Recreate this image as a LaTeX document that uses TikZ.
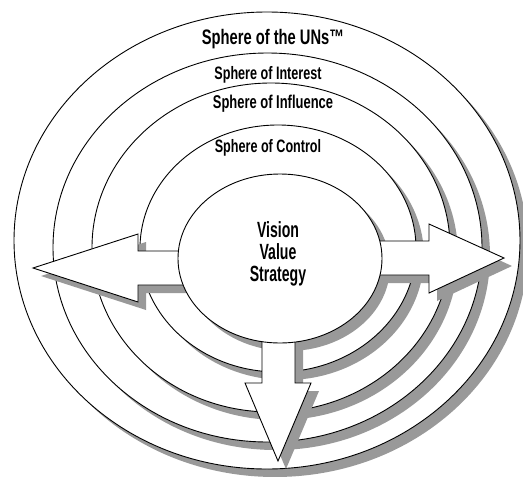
\documentclass[tikz,border=0pt]{standalone}
\usepackage{fontspec}
\setmainfont{Liberation Sans}[FakeStretch=0.7]
\newfontfamily\narrowfont{Liberation Sans}[FakeStretch=0.64]
\usetikzlibrary{shapes.geometric,shadows}
\definecolor{shadowgray}{RGB}{153,153,153}
\begin{document}
\begin{tikzpicture}[x=1pt,y=-1pt,
  sphere/.style={ellipse, draw=black, line width=0.9pt, fill=white, inner sep=0pt,
    drop shadow={shadow xshift=8pt, shadow yshift=-8pt, fill=shadowgray, opacity=1}},
  plainsphere/.style={ellipse, draw=black, line width=0.9pt, fill=white, inner sep=0pt},
  arrowshape/.style={draw=black, line width=0.9pt, fill=white, line join=miter},
  lbl/.style={font=\bfseries\fontsize{18}{18}\selectfont, inner sep=0pt},
  biglbl/.style={font=\narrowfont\bfseries\fontsize{22}{22}\selectfont, inner sep=0pt, align=center}]
\useasboundingbox (0,0) rectangle (523,477);
% spheres
\node[sphere, minimum width=506pt, minimum height=457pt] (uns) at (267,240.5) {};
\node[sphere, minimum width=429pt, minimum height=389pt] (interest) at (267.5,247.5) {};
\node[sphere, minimum width=358pt, minimum height=329pt] (influence) at (271,247.5) {};
\node[sphere, minimum width=276pt, minimum height=247pt] (control) at (278,248.5) {};
% arrow shadow
\fill[shadowgray, shift={(8pt,-8pt)}]
  (33,268) -- (138,234) -- (138,251) -- (280,251) -- (280,241) -- (429,241) -- (429,224)
  -- (504,258) -- (429,293) -- (429,275) -- (295,275) -- (295,383) -- (311,383)
  -- (278,461) -- (245,383) -- (262,383) -- (262,285) -- (138,285) -- (138,302) -- cycle;
% centre ellipse shadow
\fill[shadowgray] (288,266.5) ellipse [x radius=102, y radius=84.5];
% arrows
\draw[arrowshape]
  (33,268) -- (138,234) -- (138,251) -- (280,251) -- (280,241) -- (429,241) -- (429,224)
  -- (504,258) -- (429,293) -- (429,275) -- (295,275) -- (295,383) -- (311,383)
  -- (278,461) -- (245,383) -- (262,383) -- (262,285) -- (138,285) -- (138,302) -- cycle;
% centre
\node[plainsphere, minimum width=204pt, minimum height=169pt] (centre) at (280,258.5) {};
% labels
\node[lbl, font=\bfseries\fontsize{21}{21}\selectfont] (lbluns) at (273,39) {Sphere of the UNs\texttrademark};
\node[lbl] (lblinterest) at (268,75) {Sphere of Interest};
\node[lbl, font=\bfseries\fontsize{18.5}{18.5}\selectfont] (lblinfluence) at (273,104) {Sphere of Influence};
\node[lbl] (lblcontrol) at (268,148) {Sphere of Control};
\node[biglbl] (vvs) at (278,254) {Vision\\Value\\Strategy};
\end{tikzpicture}
\end{document}
